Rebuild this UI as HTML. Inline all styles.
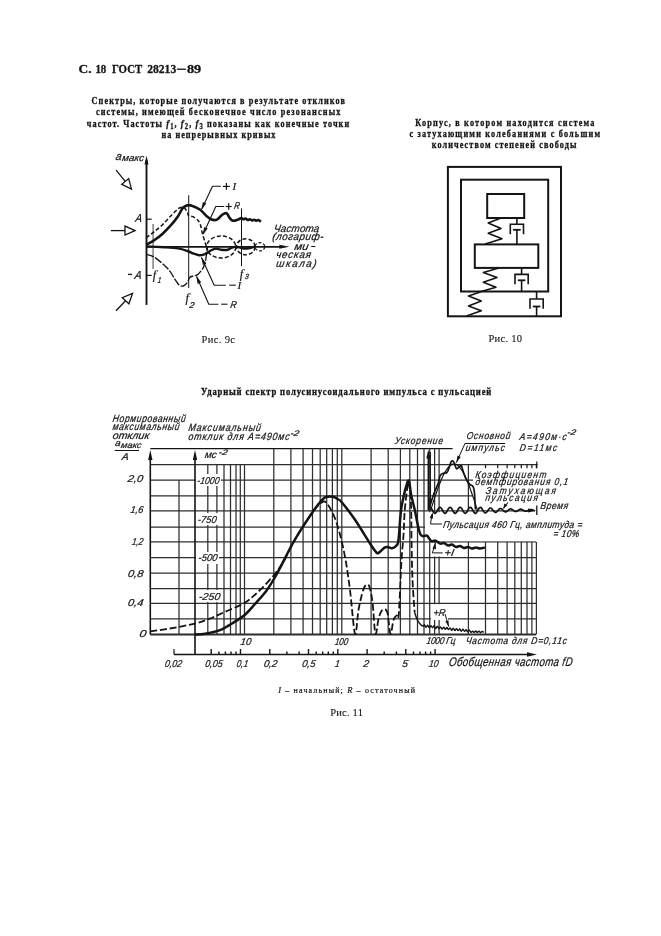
<!DOCTYPE html>
<html><head><meta charset="utf-8"><title>ГОСТ 28213-89 с. 18</title>
<style>html,body{margin:0;padding:0;background:#fff;} svg{display:block;will-change:transform;}</style></head>
<body><svg width="661" height="936" viewBox="0 0 661 936">
<rect width="661" height="936" fill="#fff"/>
<text x="78.6" y="73.2" font-family='"Liberation Serif", serif' font-size="12.4" font-weight="bold" font-style="normal" fill="#141414" stroke="#141414" stroke-width="0.3" textLength="13.0" lengthAdjust="spacingAndGlyphs" >С.</text>
<text x="95.4" y="73.2" font-family='"Liberation Serif", serif' font-size="12.4" font-weight="bold" font-style="normal" fill="#141414" stroke="#141414" stroke-width="0.3" textLength="10.9" lengthAdjust="spacingAndGlyphs" >18</text>
<text x="112.0" y="73.2" font-family='"Liberation Serif", serif' font-size="12.4" font-weight="bold" font-style="normal" fill="#141414" stroke="#141414" stroke-width="0.3" textLength="30.2" lengthAdjust="spacingAndGlyphs" >ГОСТ</text>
<text x="147.2" y="73.2" font-family='"Liberation Serif", serif' font-size="12.4" font-weight="bold" font-style="normal" fill="#141414" stroke="#141414" stroke-width="0.3" textLength="29.0" lengthAdjust="spacingAndGlyphs" >28213</text>
<line x1="176.8" y1="69.2" x2="185.9" y2="69.2" stroke="#141414" stroke-width="1.3" />
<text x="186.9" y="73.2" font-family='"Liberation Serif", serif' font-size="12.5" font-weight="bold" font-style="normal" fill="#141414" stroke="#141414" stroke-width="0.3" textLength="14.3" lengthAdjust="spacingAndGlyphs" >89</text>
<g transform="translate(91.6,104.1) skewX(0) scale(0.83,1)"><text x="0" y="0" font-family='"Liberation Serif", serif' font-size="9.9" font-weight="bold" font-style="normal" fill="#141414" stroke="#141414" stroke-width="0.3" textLength="305.3" lengthAdjust="spacing" >Спектры, которые получаются в результате откликов</text></g>
<g transform="translate(95.9,114.9) skewX(0) scale(0.83,1)"><text x="0" y="0" font-family='"Liberation Serif", serif' font-size="9.9" font-weight="bold" font-style="normal" fill="#141414" stroke="#141414" stroke-width="0.3" textLength="294.5" lengthAdjust="spacing" >системы, имеющей бесконечное число резонансных</text></g>
<g transform="translate(86.8,127) scale(0.83,1)"><text x="0" y="0" font-family='"Liberation Serif", serif' font-size="9.9" font-weight="bold" fill="#141414" stroke="#141414" stroke-width="0.3" textLength="316.1" lengthAdjust="spacing">частот. Частоты <tspan font-style="italic" font-size="10.5">f</tspan><tspan font-size="8" dy="1.5">1</tspan><tspan dy="-1.5">, </tspan><tspan font-style="italic" font-size="10.5">f</tspan><tspan font-size="8" dy="1.5">2</tspan><tspan dy="-1.5">, </tspan><tspan font-style="italic" font-size="10.5">f</tspan><tspan font-size="8" dy="1.5">3</tspan><tspan dy="-1.5"> показаны как конечные точки</tspan></text></g>
<g transform="translate(161.6,138.2) skewX(0) scale(0.83,1)"><text x="0" y="0" font-family='"Liberation Serif", serif' font-size="9.9" font-weight="bold" font-style="normal" fill="#141414" stroke="#141414" stroke-width="0.3" textLength="137.2" lengthAdjust="spacing" >на непрерывных кривых</text></g>
<g transform="translate(415.2,125.9) skewX(0) scale(0.83,1)"><text x="0" y="0" font-family='"Liberation Serif", serif' font-size="9.9" font-weight="bold" font-style="normal" fill="#141414" stroke="#141414" stroke-width="0.3" textLength="215.9" lengthAdjust="spacing" >Корпус, в котором находится система</text></g>
<g transform="translate(409.5,137.0) skewX(0) scale(0.83,1)"><text x="0" y="0" font-family='"Liberation Serif", serif' font-size="9.9" font-weight="bold" font-style="normal" fill="#141414" stroke="#141414" stroke-width="0.3" textLength="229.5" lengthAdjust="spacing" >с затухающими колебаниями с большим</text></g>
<g transform="translate(431.8,147.5) skewX(0) scale(0.83,1)"><text x="0" y="0" font-family='"Liberation Serif", serif' font-size="9.9" font-weight="bold" font-style="normal" fill="#141414" stroke="#141414" stroke-width="0.3" textLength="174.1" lengthAdjust="spacing" >количеством степеней свободы</text></g>
<text x="201.5" y="343.2" font-family='"Liberation Serif", serif' font-size="10.5" font-weight="normal" font-style="normal" fill="#141414" stroke="#141414" stroke-width="0.1" textLength="33.5" lengthAdjust="spacing" >Рис. 9с</text>
<text x="488.4" y="341.7" font-family='"Liberation Serif", serif' font-size="10.5" font-weight="normal" font-style="normal" fill="#141414" stroke="#141414" stroke-width="0.1" textLength="33.6" lengthAdjust="spacing" >Рис. 10</text>
<rect x="447.9" y="166.9" width="113.1" height="149.4" fill="none" stroke="#141414" stroke-width="2.0"/>
<rect x="461" y="179.7" width="87.2" height="111.8" fill="none" stroke="#141414" stroke-width="2.0"/>
<rect x="487.2" y="194" width="37" height="24" fill="none" stroke="#141414" stroke-width="2.0"/>
<rect x="474.8" y="244.4" width="63.5" height="23.5" fill="none" stroke="#141414" stroke-width="2.0"/>
<path d="M501.0,218.0 L488.2,223.0 L501.0,228.4 L488.2,233.2 L502.0,238.7 L485.2,244.0" fill="none" stroke="#141414" stroke-width="1.6" stroke-linejoin="round" stroke-linecap="butt" />
<path d="M499.0,268.0 L483.3,272.4 L497.0,277.4 L483.3,282.3 L496.0,287.2 L479.3,292.1" fill="none" stroke="#141414" stroke-width="1.6" stroke-linejoin="round" stroke-linecap="butt" />
<path d="M480.3,292.1 L468.5,296.0 L481.3,301.0 L468.5,305.9 L481.3,310.8 L466.5,316.0" fill="none" stroke="#141414" stroke-width="1.6" stroke-linejoin="round" stroke-linecap="butt" />
<line x1="516.9" y1="218.0" x2="516.9" y2="224.2" stroke="#141414" stroke-width="1.6" />
<path d="M510.3,234.3 L510.3,224.2 L523.5,224.2 L523.5,234.3" fill="none" stroke="#141414" stroke-width="1.6"/>
<line x1="513.1" y1="229.8" x2="520.7" y2="229.8" stroke="#141414" stroke-width="1.8" />
<line x1="516.9" y1="229.8" x2="516.9" y2="244.4" stroke="#141414" stroke-width="1.6" />
<line x1="521.6" y1="268.0" x2="521.6" y2="274.4" stroke="#141414" stroke-width="1.6" />
<path d="M515.0,284.2 L515.0,274.4 L528.2,274.4 L528.2,284.2" fill="none" stroke="#141414" stroke-width="1.6"/>
<line x1="517.8" y1="280.3" x2="525.4" y2="280.3" stroke="#141414" stroke-width="1.8" />
<line x1="521.6" y1="280.3" x2="521.6" y2="291.5" stroke="#141414" stroke-width="1.6" />
<line x1="536.6" y1="291.5" x2="536.6" y2="299.0" stroke="#141414" stroke-width="1.6" />
<path d="M530.0,308.8 L530.0,299.0 L543.2,299.0 L543.2,308.8" fill="none" stroke="#141414" stroke-width="1.6"/>
<line x1="532.8" y1="306.5" x2="540.4" y2="306.5" stroke="#141414" stroke-width="1.8" />
<line x1="536.6" y1="306.5" x2="536.6" y2="316.3" stroke="#141414" stroke-width="1.6" />
<line x1="146.5" y1="304.9" x2="146.5" y2="160.0" stroke="#141414" stroke-width="1.9" />
<path d="M146.5,155.5 L148.5,164.5 L144.5,164.5 Z" fill="#141414"/>
<line x1="146.5" y1="246.8" x2="284.0" y2="246.8" stroke="#141414" stroke-width="1.8" />
<path d="M289.4,246.8 L279.4,248.8 L279.4,244.8 Z" fill="#141414"/>
<line x1="146.5" y1="219.2" x2="151.7" y2="219.2" stroke="#141414" stroke-width="1.2" />
<line x1="146.5" y1="275.4" x2="151.7" y2="275.4" stroke="#141414" stroke-width="1.2" />
<line x1="153.1" y1="224.0" x2="153.1" y2="269.0" stroke="#8a8a8a" stroke-width="1.6" />
<line x1="188.7" y1="195.2" x2="188.7" y2="288.0" stroke="#141414" stroke-width="1.0" />
<line x1="241.5" y1="208.4" x2="241.5" y2="266.2" stroke="#141414" stroke-width="1.0" />
<line x1="116.1" y1="170.2" x2="125.2" y2="181.4" stroke="#141414" stroke-width="1.3" />
<path d="M131.5,189.2 L121.7,184.3 L128.7,178.6 Z" fill="none" stroke="#141414" stroke-width="1.3" stroke-linejoin="miter"/>
<line x1="110.8" y1="230.6" x2="125.0" y2="230.6" stroke="#141414" stroke-width="1.3" />
<path d="M135.0,230.6 L125.0,235.1 L125.0,226.1 Z" fill="none" stroke="#141414" stroke-width="1.3" stroke-linejoin="miter"/>
<line x1="116.0" y1="310.8" x2="125.6" y2="300.7" stroke="#141414" stroke-width="1.3" />
<path d="M132.5,293.5 L128.9,303.8 L122.3,297.6 Z" fill="none" stroke="#141414" stroke-width="1.3" stroke-linejoin="miter"/>
<path d="M146.2,244.8 C147.4,244.1 150.9,242.4 153.6,240.6 C156.2,238.8 159.3,236.7 162.1,234.2 C164.9,231.7 167.8,228.7 170.5,225.7 C173.2,222.7 176.1,219.0 178.0,216.2 C179.9,213.4 181.0,210.5 182.2,208.8 C183.4,207.1 184.3,206.7 185.4,206.1 C186.5,205.5 187.4,205.1 188.6,205.1 C189.8,205.1 190.9,205.3 192.8,206.1 C194.7,206.9 197.9,208.2 200.2,209.8 C202.5,211.4 204.5,214.3 206.4,215.9 C208.3,217.5 209.9,219.0 211.7,219.6 C213.5,220.2 215.2,220.4 217.0,219.6 C218.8,218.8 220.6,215.9 222.2,214.8 C223.8,213.7 225.2,212.7 226.5,213.2 C227.8,213.7 228.6,216.8 229.7,218.0 C230.8,219.2 231.4,220.4 232.8,220.7 C234.2,221.0 236.7,220.0 238.1,219.6 C239.5,219.2 240.4,218.1 241.3,218.0 C242.2,217.9 242.8,219.2 243.5,219.3 C244.2,219.4 244.9,218.5 245.6,218.6 C246.3,218.7 247.0,219.8 247.7,219.9 C248.4,220.0 249.1,219.1 249.8,219.2 C250.5,219.3 251.3,220.3 252.0,220.4 C252.7,220.5 253.3,219.7 254.0,219.7 C254.7,219.7 255.5,220.5 256.2,220.6 C256.9,220.7 257.5,219.8 258.3,220.0 C259.1,220.2 260.5,221.4 260.9,221.7" fill="none" stroke="#141414" stroke-width="2.6" stroke-linejoin="round" stroke-linecap="butt" />
<path d="M146.2,237.9 C147.4,236.9 150.9,234.2 153.6,232.1 C156.2,230.0 159.3,227.8 162.1,225.2 C164.9,222.5 167.8,218.9 170.5,216.2 C173.2,213.5 176.1,210.3 178.0,208.8 C179.9,207.3 181.1,207.3 182.2,207.2 C183.3,207.1 183.9,207.3 184.8,208.2 C185.7,209.1 186.9,211.2 187.5,212.5 C188.1,213.8 187.7,215.0 188.6,215.7 C189.5,216.4 191.2,215.9 192.8,216.7 C194.4,217.5 196.8,218.9 198.1,220.4 C199.4,221.9 200.0,223.6 200.7,225.7 C201.4,227.8 201.5,230.1 202.3,233.1 C203.1,236.1 204.6,240.9 205.5,243.7 C206.4,246.5 207.2,248.9 207.6,250.0" fill="none" stroke="#141414" stroke-width="1.5" stroke-linejoin="round" stroke-linecap="butt" stroke-dasharray="4,2.2" />
<path d="M146.2,246.4 C149.2,246.6 158.9,247.0 164.2,247.3 C169.5,247.6 174.1,247.8 178.0,248.4 C181.9,249.0 184.9,250.1 187.5,251.0 C190.1,251.9 191.9,253.0 193.8,253.7 C195.7,254.4 197.5,255.0 199.1,255.2 C200.7,255.4 202.0,255.1 203.4,254.7 C204.8,254.3 206.4,253.3 207.6,252.6 C208.8,251.9 209.4,251.2 210.8,250.5 C212.2,249.8 214.2,248.7 215.9,248.6 C217.6,248.5 219.3,249.6 221.2,249.8 C223.1,250.0 225.7,250.2 227.5,249.8 C229.3,249.5 230.4,248.2 231.8,247.7 C233.2,247.2 234.2,246.5 236.0,246.6 C237.8,246.7 240.3,247.9 242.4,248.2 C244.5,248.5 246.6,248.5 248.7,248.2 C250.8,247.9 253.9,246.9 255.0,246.6" fill="none" stroke="#141414" stroke-width="2.4" stroke-linejoin="round" stroke-linecap="butt" />
<path d="M146.2,254.2 C147.4,254.6 150.9,255.3 153.6,256.8 C156.2,258.3 159.4,260.9 162.1,263.2 C164.8,265.5 167.4,268.0 169.5,270.6 C171.6,273.2 173.2,276.7 174.8,279.1 C176.4,281.5 177.6,283.8 179.0,284.9 C180.4,286.0 181.9,286.4 183.3,286.0 C184.7,285.6 186.4,283.7 187.5,282.3 C188.6,280.9 188.5,278.6 189.6,277.5 C190.7,276.4 192.4,276.4 193.8,275.9 C195.2,275.4 196.5,275.7 198.1,274.3 C199.7,272.9 202.2,269.6 203.4,267.4 C204.6,265.2 205.0,263.4 205.5,261.1 C206.0,258.8 206.2,256.0 206.6,253.7 C206.9,251.4 207.4,248.4 207.6,247.3" fill="none" stroke="#141414" stroke-width="1.35" stroke-linejoin="round" stroke-linecap="butt" stroke-dasharray="8,1.6" />
<ellipse cx="221.2" cy="247" rx="14.6" ry="11" fill="none" stroke="#141414" stroke-width="1.5" stroke-dasharray="4,2.2"/>
<ellipse cx="245.8" cy="246.8" rx="9.3" ry="8" fill="none" stroke="#141414" stroke-width="1.5" stroke-dasharray="4,2.2"/>
<ellipse cx="259.9" cy="246.8" rx="4.8" ry="4.2" fill="none" stroke="#141414" stroke-width="1.2" stroke-dasharray="3,1.8"/>
<path d="M220.8,186.2 L212.5,186.2 L201.8,209.0" fill="none" stroke="#141414" stroke-width="1.1" stroke-linejoin="round" stroke-linecap="butt" />
<path d="M201.2,210.0 L202.9,202.0 L206.3,203.6 Z" fill="#141414"/>
<path d="M224.2,206.5 L215.8,206.5 L203.2,234.0" fill="none" stroke="#141414" stroke-width="1.1" stroke-linejoin="round" stroke-linecap="butt" />
<path d="M202.6,235.0 L204.2,226.9 L207.7,228.5 Z" fill="#141414"/>
<line x1="222.9" y1="186.4" x2="229.9" y2="186.4" stroke="#141414" stroke-width="1.2" />
<line x1="226.4" y1="183.0" x2="226.4" y2="189.8" stroke="#141414" stroke-width="1.2" />
<line x1="225.7" y1="206.5" x2="231.7" y2="206.5" stroke="#141414" stroke-width="1.2" />
<line x1="228.7" y1="203.3" x2="228.7" y2="209.7" stroke="#141414" stroke-width="1.2" />
<text x="232.4" y="189.8" font-family='"Liberation Serif", serif' font-size="11" font-weight="normal" font-style="italic" fill="#141414" stroke="#141414" stroke-width="0.2" >I</text>
<g transform="translate(233.8,208.9) skewX(-9) scale(1.0,1)"><text x="0" y="0" font-family='"Liberation Sans", sans-serif' font-size="10" font-weight="normal" font-style="italic" fill="#141414" stroke="#141414" stroke-width="0.22" textLength="5.6" lengthAdjust="spacingAndGlyphs" >R</text></g>
<path d="M225.8,285.2 L214.2,285.2 L201.5,257.5" fill="none" stroke="#141414" stroke-width="1.1" stroke-linejoin="round" stroke-linecap="butt" />
<line x1="229.2" y1="285.2" x2="235.8" y2="285.2" stroke="#141414" stroke-width="1.1" />
<path d="M201.3,257.0 L206.3,263.5 L202.9,265.1 Z" fill="#141414"/>
<path d="M218.3,304.2 L208.8,304.2 L196.6,276.5" fill="none" stroke="#141414" stroke-width="1.1" stroke-linejoin="round" stroke-linecap="butt" />
<line x1="221.2" y1="304.2" x2="227.5" y2="304.2" stroke="#141414" stroke-width="1.1" />
<path d="M196.2,275.8 L201.2,282.3 L197.7,283.9 Z" fill="#141414"/>
<g transform="translate(115.2,159.8) skewX(-9) scale(1.0,1)"><text x="0" y="0" font-family='"Liberation Sans", sans-serif' font-size="11.3" font-weight="normal" font-style="italic" fill="#141414" stroke="#141414" stroke-width="0.22" textLength="6.0" lengthAdjust="spacingAndGlyphs" >a</text></g>
<g transform="translate(121.8,161.3) skewX(-9) scale(1.0,1)"><text x="0" y="0" font-family='"Liberation Sans", sans-serif' font-size="9.4" font-weight="normal" font-style="italic" fill="#141414" stroke="#141414" stroke-width="0.22" textLength="21.8" lengthAdjust="spacingAndGlyphs" >макс</text></g>
<g transform="translate(135.0,222.1) skewX(-9) scale(1.0,1)"><text x="0" y="0" font-family='"Liberation Sans", sans-serif' font-size="11.5" font-weight="normal" font-style="italic" fill="#141414" stroke="#141414" stroke-width="0.22" textLength="6.6" lengthAdjust="spacingAndGlyphs" >A</text></g>
<line x1="128.0" y1="274.4" x2="132.0" y2="274.4" stroke="#141414" stroke-width="1.3" />
<g transform="translate(134.2,278.9) skewX(-9) scale(1.0,1)"><text x="0" y="0" font-family='"Liberation Sans", sans-serif' font-size="11.5" font-weight="normal" font-style="italic" fill="#141414" stroke="#141414" stroke-width="0.22" textLength="7.0" lengthAdjust="spacingAndGlyphs" >A</text></g>
<text x="152.8" y="279.2" font-family='"Liberation Serif", serif' font-size="12.5" font-weight="normal" font-style="italic" fill="#141414" stroke="#141414" stroke-width="0.2" >f</text>
<g transform="translate(157.2,282.6) skewX(-9) scale(1.0,1)"><text x="0" y="0" font-family='"Liberation Sans", sans-serif' font-size="8.5" font-weight="normal" font-style="italic" fill="#141414" stroke="#141414" stroke-width="0.22" textLength="3.6" lengthAdjust="spacingAndGlyphs" >1</text></g>
<text x="185.6" y="301.8" font-family='"Liberation Serif", serif' font-size="12.5" font-weight="normal" font-style="italic" fill="#141414" stroke="#141414" stroke-width="0.2" >f</text>
<g transform="translate(189.1,307.7) skewX(-9) scale(1.0,1)"><text x="0" y="0" font-family='"Liberation Sans", sans-serif' font-size="8.5" font-weight="normal" font-style="italic" fill="#141414" stroke="#141414" stroke-width="0.22" textLength="5.1" lengthAdjust="spacingAndGlyphs" >2</text></g>
<text x="239.8" y="277.8" font-family='"Liberation Serif", serif' font-size="12.5" font-weight="normal" font-style="italic" fill="#141414" stroke="#141414" stroke-width="0.2" >f</text>
<g transform="translate(244.4,279.3) skewX(-9) scale(1.0,1)"><text x="0" y="0" font-family='"Liberation Sans", sans-serif' font-size="7.5" font-weight="normal" font-style="italic" fill="#141414" stroke="#141414" stroke-width="0.22" textLength="4.0" lengthAdjust="spacingAndGlyphs" >3</text></g>
<text x="237.6" y="288.7" font-family='"Liberation Serif", serif' font-size="11" font-weight="normal" font-style="italic" fill="#141414" stroke="#141414" stroke-width="0.2" >I</text>
<g transform="translate(230.0,307.5) skewX(-9) scale(1.0,1)"><text x="0" y="0" font-family='"Liberation Sans", sans-serif' font-size="10" font-weight="normal" font-style="italic" fill="#141414" stroke="#141414" stroke-width="0.22" textLength="6.2" lengthAdjust="spacingAndGlyphs" >R</text></g>
<g transform="translate(273.5,232.0) skewX(-9) scale(0.95,1)"><text x="0" y="0" font-family='"Liberation Sans", sans-serif' font-size="10.5" font-weight="normal" font-style="italic" fill="#141414" stroke="#141414" stroke-width="0.22" textLength="47.8" lengthAdjust="spacing" >Частота</text></g>
<g transform="translate(272.0,240.2) skewX(-9) scale(0.95,1)"><text x="0" y="0" font-family='"Liberation Sans", sans-serif' font-size="10.5" font-weight="normal" font-style="italic" fill="#141414" stroke="#141414" stroke-width="0.22" textLength="53.7" lengthAdjust="spacing" >(логариф-</text></g>
<g transform="translate(293.9,249.7) skewX(-9) scale(1.0,1)"><text x="0" y="0" font-family='"Liberation Sans", sans-serif' font-size="10.5" font-weight="normal" font-style="italic" fill="#141414" stroke="#141414" stroke-width="0.22" textLength="14.1" lengthAdjust="spacingAndGlyphs" >ми</text></g>
<line x1="311.2" y1="246.5" x2="315.3" y2="246.5" stroke="#141414" stroke-width="1.1" />
<g transform="translate(275.7,258.4) skewX(-9) scale(0.95,1)"><text x="0" y="0" font-family='"Liberation Sans", sans-serif' font-size="10.5" font-weight="normal" font-style="italic" fill="#141414" stroke="#141414" stroke-width="0.22" textLength="36.8" lengthAdjust="spacing" >ческая</text></g>
<g transform="translate(275.7,267.0) skewX(-9) scale(0.95,1)"><text x="0" y="0" font-family='"Liberation Sans", sans-serif' font-size="10.5" font-weight="normal" font-style="italic" fill="#141414" stroke="#141414" stroke-width="0.22" textLength="42.6" lengthAdjust="spacing" >шкала)</text></g>
<g transform="translate(200.9,395.3) skewX(0) scale(0.9,1)"><text x="0" y="0" font-family='"Liberation Serif", serif' font-size="9.6" font-weight="bold" font-style="normal" fill="#141414" stroke="#141414" stroke-width="0.3" textLength="322.7" lengthAdjust="spacing" >Ударный спектр полусинусоидального импульса с пульсацией</text></g>
<line x1="150.3" y1="448.7" x2="452.6" y2="448.7" stroke="#141414" stroke-width="1.25" />
<line x1="150.3" y1="464.6" x2="537.5" y2="464.6" stroke="#2e2e2e" stroke-width="1.25" />
<line x1="150.3" y1="480.1" x2="475.0" y2="480.1" stroke="#2e2e2e" stroke-width="1.25" />
<line x1="150.3" y1="495.8" x2="477.0" y2="495.8" stroke="#2e2e2e" stroke-width="1.25" />
<line x1="150.3" y1="510.9" x2="533.0" y2="510.9" stroke="#2e2e2e" stroke-width="1.25" />
<line x1="150.3" y1="527.0" x2="425.0" y2="527.0" stroke="#2e2e2e" stroke-width="1.25" />
<line x1="150.3" y1="541.9" x2="536.0" y2="541.9" stroke="#2e2e2e" stroke-width="1.25" />
<line x1="150.3" y1="557.6" x2="536.0" y2="557.6" stroke="#2e2e2e" stroke-width="1.25" />
<line x1="150.3" y1="573.0" x2="536.0" y2="573.0" stroke="#2e2e2e" stroke-width="1.25" />
<line x1="150.3" y1="588.5" x2="536.0" y2="588.5" stroke="#2e2e2e" stroke-width="1.25" />
<line x1="150.3" y1="603.3" x2="536.0" y2="603.3" stroke="#2e2e2e" stroke-width="1.25" />
<line x1="150.3" y1="618.8" x2="536.0" y2="618.8" stroke="#2e2e2e" stroke-width="1.25" />
<line x1="150.3" y1="634.5" x2="536.0" y2="634.5" stroke="#2e2e2e" stroke-width="2.0" />
<line x1="485.5" y1="464.6" x2="485.5" y2="468.6" stroke="#141414" stroke-width="1.2" />
<line x1="497.7" y1="464.6" x2="497.7" y2="468.6" stroke="#141414" stroke-width="1.2" />
<line x1="507.1" y1="464.6" x2="507.1" y2="468.6" stroke="#141414" stroke-width="1.2" />
<line x1="514.8" y1="464.6" x2="514.8" y2="468.6" stroke="#141414" stroke-width="1.2" />
<line x1="521.3" y1="464.6" x2="521.3" y2="468.6" stroke="#141414" stroke-width="1.2" />
<line x1="527.0" y1="464.6" x2="527.0" y2="468.6" stroke="#141414" stroke-width="1.2" />
<line x1="531.9" y1="464.6" x2="531.9" y2="468.6" stroke="#141414" stroke-width="1.2" />
<line x1="536.4" y1="464.6" x2="536.4" y2="468.6" stroke="#141414" stroke-width="1.2" />
<line x1="207.8" y1="464.6" x2="207.8" y2="634.5" stroke="#2e2e2e" stroke-width="1.25" />
<line x1="216.9" y1="464.6" x2="216.9" y2="634.5" stroke="#2e2e2e" stroke-width="1.25" />
<line x1="224.0" y1="464.6" x2="224.0" y2="634.5" stroke="#2e2e2e" stroke-width="1.25" />
<line x1="230.5" y1="464.6" x2="230.5" y2="634.5" stroke="#2e2e2e" stroke-width="1.25" />
<line x1="236.0" y1="464.6" x2="236.0" y2="634.5" stroke="#2e2e2e" stroke-width="1.25" />
<line x1="240.3" y1="464.6" x2="240.3" y2="634.5" stroke="#2e2e2e" stroke-width="1.25" />
<line x1="179.0" y1="480.1" x2="179.0" y2="634.5" stroke="#2e2e2e" stroke-width="1.25" />
<line x1="244.5" y1="464.6" x2="244.5" y2="634.5" stroke="#2e2e2e" stroke-width="1.25" />
<line x1="273.8" y1="448.7" x2="273.8" y2="634.5" stroke="#2e2e2e" stroke-width="1.25" />
<line x1="290.9" y1="448.7" x2="290.9" y2="634.5" stroke="#2e2e2e" stroke-width="1.25" />
<line x1="303.1" y1="448.7" x2="303.1" y2="634.5" stroke="#2e2e2e" stroke-width="1.25" />
<line x1="312.5" y1="448.7" x2="312.5" y2="634.5" stroke="#2e2e2e" stroke-width="1.25" />
<line x1="320.2" y1="448.7" x2="320.2" y2="634.5" stroke="#2e2e2e" stroke-width="1.25" />
<line x1="326.7" y1="448.7" x2="326.7" y2="634.5" stroke="#2e2e2e" stroke-width="1.25" />
<line x1="332.4" y1="448.7" x2="332.4" y2="634.5" stroke="#2e2e2e" stroke-width="1.25" />
<line x1="337.3" y1="448.7" x2="337.3" y2="634.5" stroke="#2e2e2e" stroke-width="1.25" />
<line x1="341.8" y1="448.7" x2="341.8" y2="634.5" stroke="#2e2e2e" stroke-width="1.25" />
<line x1="371.1" y1="448.7" x2="371.1" y2="634.5" stroke="#2e2e2e" stroke-width="1.25" />
<line x1="388.2" y1="448.7" x2="388.2" y2="634.5" stroke="#2e2e2e" stroke-width="1.25" />
<line x1="400.4" y1="448.7" x2="400.4" y2="634.5" stroke="#2e2e2e" stroke-width="1.25" />
<line x1="409.8" y1="448.7" x2="409.8" y2="634.5" stroke="#2e2e2e" stroke-width="1.25" />
<line x1="417.5" y1="448.7" x2="417.5" y2="634.5" stroke="#2e2e2e" stroke-width="1.25" />
<line x1="424.0" y1="448.7" x2="424.0" y2="634.5" stroke="#2e2e2e" stroke-width="1.25" />
<line x1="429.7" y1="448.7" x2="429.7" y2="634.5" stroke="#2e2e2e" stroke-width="1.25" />
<line x1="434.6" y1="448.7" x2="434.6" y2="634.5" stroke="#2e2e2e" stroke-width="1.25" />
<line x1="439.1" y1="448.7" x2="439.1" y2="634.5" stroke="#2e2e2e" stroke-width="1.25" />
<line x1="468.4" y1="464.6" x2="468.4" y2="510.9" stroke="#2e2e2e" stroke-width="1.25" />
<line x1="468.4" y1="534.5" x2="468.4" y2="634.5" stroke="#2e2e2e" stroke-width="1.25" />
<line x1="485.5" y1="541.9" x2="485.5" y2="634.5" stroke="#2e2e2e" stroke-width="1.25" />
<line x1="497.7" y1="541.9" x2="497.7" y2="634.5" stroke="#2e2e2e" stroke-width="1.25" />
<line x1="507.1" y1="541.9" x2="507.1" y2="634.5" stroke="#2e2e2e" stroke-width="1.25" />
<line x1="514.8" y1="541.9" x2="514.8" y2="634.5" stroke="#2e2e2e" stroke-width="1.25" />
<line x1="521.3" y1="541.9" x2="521.3" y2="634.5" stroke="#2e2e2e" stroke-width="1.25" />
<line x1="527.0" y1="541.9" x2="527.0" y2="634.5" stroke="#2e2e2e" stroke-width="1.25" />
<line x1="531.9" y1="541.9" x2="531.9" y2="634.5" stroke="#2e2e2e" stroke-width="1.25" />
<line x1="536.4" y1="541.9" x2="536.4" y2="634.5" stroke="#2e2e2e" stroke-width="1.25" />
<line x1="536.8" y1="461.6" x2="536.8" y2="468.6" stroke="#141414" stroke-width="1.2" />
<line x1="150.3" y1="634.5" x2="150.3" y2="458.0" stroke="#141414" stroke-width="1.6" />
<path d="M150.3,450.0 L152.5,460.0 L148.1,460.0 Z" fill="#141414"/>
<line x1="195.0" y1="654.5" x2="195.0" y2="458.0" stroke="#141414" stroke-width="1.6" />
<path d="M195.0,450.0 L197.2,460.0 L192.8,460.0 Z" fill="#141414"/>
<rect x="196.0" y="474.0" width="25.0" height="12.0" fill="#fff"/>
<rect x="196.0" y="513.0" width="22.0" height="12.0" fill="#fff"/>
<rect x="196.0" y="552.0" width="23.0" height="12.0" fill="#fff"/>
<rect x="196.0" y="590.0" width="25.0" height="12.0" fill="#fff"/>
<rect x="473.0" y="468.5" width="102.0" height="40.5" fill="#fff"/>
<rect x="425.6" y="512.2" width="162.0" height="29.0" fill="#fff"/>
<rect x="432.0" y="543.0" width="25.0" height="13.5" fill="#fff"/>
<rect x="431.0" y="604.2" width="17.0" height="15.8" fill="#fff"/>
<line x1="174.0" y1="654.5" x2="530.0" y2="654.5" stroke="#141414" stroke-width="1.5" />
<path d="M537.0,654.5 L527.0,656.7 L527.0,652.3 Z" fill="#141414"/>
<line x1="211.2" y1="649.0" x2="211.2" y2="654.5" stroke="#141414" stroke-width="1.4" />
<line x1="240.5" y1="649.0" x2="240.5" y2="654.5" stroke="#141414" stroke-width="1.4" />
<line x1="269.8" y1="649.0" x2="269.8" y2="654.5" stroke="#141414" stroke-width="1.4" />
<line x1="308.5" y1="649.0" x2="308.5" y2="654.5" stroke="#141414" stroke-width="1.4" />
<line x1="337.8" y1="649.0" x2="337.8" y2="654.5" stroke="#141414" stroke-width="1.4" />
<line x1="367.1" y1="649.0" x2="367.1" y2="654.5" stroke="#141414" stroke-width="1.4" />
<line x1="405.8" y1="649.0" x2="405.8" y2="654.5" stroke="#141414" stroke-width="1.4" />
<line x1="435.1" y1="649.0" x2="435.1" y2="654.5" stroke="#141414" stroke-width="1.4" />
<line x1="218.9" y1="651.5" x2="218.9" y2="654.5" stroke="#141414" stroke-width="1.4" />
<line x1="225.4" y1="651.5" x2="225.4" y2="654.5" stroke="#141414" stroke-width="1.4" />
<line x1="231.0" y1="651.5" x2="231.0" y2="654.5" stroke="#141414" stroke-width="1.4" />
<line x1="236.0" y1="651.5" x2="236.0" y2="654.5" stroke="#141414" stroke-width="1.4" />
<line x1="286.9" y1="651.5" x2="286.9" y2="654.5" stroke="#141414" stroke-width="1.4" />
<line x1="299.1" y1="651.5" x2="299.1" y2="654.5" stroke="#141414" stroke-width="1.4" />
<line x1="316.2" y1="651.5" x2="316.2" y2="654.5" stroke="#141414" stroke-width="1.4" />
<line x1="322.7" y1="651.5" x2="322.7" y2="654.5" stroke="#141414" stroke-width="1.4" />
<line x1="328.3" y1="651.5" x2="328.3" y2="654.5" stroke="#141414" stroke-width="1.4" />
<line x1="333.3" y1="651.5" x2="333.3" y2="654.5" stroke="#141414" stroke-width="1.4" />
<line x1="384.2" y1="651.5" x2="384.2" y2="654.5" stroke="#141414" stroke-width="1.4" />
<line x1="396.4" y1="651.5" x2="396.4" y2="654.5" stroke="#141414" stroke-width="1.4" />
<line x1="413.5" y1="651.5" x2="413.5" y2="654.5" stroke="#141414" stroke-width="1.4" />
<line x1="420.0" y1="651.5" x2="420.0" y2="654.5" stroke="#141414" stroke-width="1.4" />
<line x1="425.6" y1="651.5" x2="425.6" y2="654.5" stroke="#141414" stroke-width="1.4" />
<line x1="430.6" y1="651.5" x2="430.6" y2="654.5" stroke="#141414" stroke-width="1.4" />
<line x1="174.0" y1="649.0" x2="174.0" y2="654.5" stroke="#141414" stroke-width="1.2" />
<g transform="translate(127.2,482.0) skewX(-9) scale(1.0,1)"><text x="0" y="0" font-family='"Liberation Sans", sans-serif' font-size="10" font-weight="normal" font-style="italic" fill="#141414" stroke="#141414" stroke-width="0.22" textLength="15.5" lengthAdjust="spacingAndGlyphs" >2,0</text></g>
<g transform="translate(130.0,513.2) skewX(-9) scale(1.0,1)"><text x="0" y="0" font-family='"Liberation Sans", sans-serif' font-size="10" font-weight="normal" font-style="italic" fill="#141414" stroke="#141414" stroke-width="0.22" textLength="13.0" lengthAdjust="spacingAndGlyphs" >1,6</text></g>
<g transform="translate(131.4,544.5) skewX(-9) scale(1.0,1)"><text x="0" y="0" font-family='"Liberation Sans", sans-serif' font-size="10" font-weight="normal" font-style="italic" fill="#141414" stroke="#141414" stroke-width="0.22" textLength="11.6" lengthAdjust="spacingAndGlyphs" >1,2</text></g>
<g transform="translate(127.5,576.8) skewX(-9) scale(1.0,1)"><text x="0" y="0" font-family='"Liberation Sans", sans-serif' font-size="10" font-weight="normal" font-style="italic" fill="#141414" stroke="#141414" stroke-width="0.22" textLength="15.5" lengthAdjust="spacingAndGlyphs" >0,8</text></g>
<g transform="translate(127.5,606.3) skewX(-9) scale(1.0,1)"><text x="0" y="0" font-family='"Liberation Sans", sans-serif' font-size="10" font-weight="normal" font-style="italic" fill="#141414" stroke="#141414" stroke-width="0.22" textLength="15.5" lengthAdjust="spacingAndGlyphs" >0,4</text></g>
<g transform="translate(139.0,637.2) skewX(-9) scale(1.0,1)"><text x="0" y="0" font-family='"Liberation Sans", sans-serif' font-size="10" font-weight="normal" font-style="italic" fill="#141414" stroke="#141414" stroke-width="0.22" textLength="7.0" lengthAdjust="spacingAndGlyphs" >0</text></g>
<g transform="translate(196.8,483.6) skewX(-9) scale(1.0,1)"><text x="0" y="0" font-family='"Liberation Sans", sans-serif' font-size="10" font-weight="normal" font-style="italic" fill="#141414" stroke="#141414" stroke-width="0.22" textLength="22.2" lengthAdjust="spacingAndGlyphs" >-1000</text></g>
<g transform="translate(197.5,522.6) skewX(-9) scale(1.0,1)"><text x="0" y="0" font-family='"Liberation Sans", sans-serif' font-size="10" font-weight="normal" font-style="italic" fill="#141414" stroke="#141414" stroke-width="0.22" textLength="18.7" lengthAdjust="spacingAndGlyphs" >-750</text></g>
<g transform="translate(198.0,561.2) skewX(-9) scale(1.0,1)"><text x="0" y="0" font-family='"Liberation Sans", sans-serif' font-size="10" font-weight="normal" font-style="italic" fill="#141414" stroke="#141414" stroke-width="0.22" textLength="19.0" lengthAdjust="spacingAndGlyphs" >-500</text></g>
<g transform="translate(198.5,599.9) skewX(-9) scale(1.0,1)"><text x="0" y="0" font-family='"Liberation Sans", sans-serif' font-size="10" font-weight="normal" font-style="italic" fill="#141414" stroke="#141414" stroke-width="0.22" textLength="21.3" lengthAdjust="spacingAndGlyphs" >-250</text></g>
<g transform="translate(204.6,458.3) skewX(-9) scale(1.0,1)"><text x="0" y="0" font-family='"Liberation Sans", sans-serif' font-size="10" font-weight="normal" font-style="italic" fill="#141414" stroke="#141414" stroke-width="0.22" textLength="11.8" lengthAdjust="spacingAndGlyphs" >мс</text></g>
<g transform="translate(218.3,454.5) skewX(-9) scale(1.0,1)"><text x="0" y="0" font-family='"Liberation Sans", sans-serif' font-size="8" font-weight="normal" font-style="italic" fill="#141414" stroke="#141414" stroke-width="0.22" textLength="8.9" lengthAdjust="spacingAndGlyphs" >-2</text></g>
<g transform="translate(112.3,422.1) skewX(-9) scale(0.82,1)"><text x="0" y="0" font-family='"Liberation Sans", sans-serif' font-size="10.5" font-weight="normal" font-style="italic" fill="#141414" stroke="#141414" stroke-width="0.22" textLength="88.9" lengthAdjust="spacing" >Нормированный</text></g>
<g transform="translate(112.3,430.4) skewX(-9) scale(0.82,1)"><text x="0" y="0" font-family='"Liberation Sans", sans-serif' font-size="10.5" font-weight="normal" font-style="italic" fill="#141414" stroke="#141414" stroke-width="0.22" textLength="81.5" lengthAdjust="spacing" >максимальный</text></g>
<g transform="translate(112.3,438.7) skewX(-9) scale(1.0,1)"><text x="0" y="0" font-family='"Liberation Sans", sans-serif' font-size="10.5" font-weight="normal" font-style="italic" fill="#141414" stroke="#141414" stroke-width="0.22" textLength="36.6" lengthAdjust="spacingAndGlyphs" >отклик</text></g>
<g transform="translate(114.8,445.5) skewX(-9) scale(1.0,1)"><text x="0" y="0" font-family='"Liberation Sans", sans-serif' font-size="9" font-weight="normal" font-style="italic" fill="#141414" stroke="#141414" stroke-width="0.22" textLength="5.5" lengthAdjust="spacingAndGlyphs" >a</text></g>
<g transform="translate(120.5,448.0) skewX(-9) scale(1.0,1)"><text x="0" y="0" font-family='"Liberation Sans", sans-serif' font-size="8.5" font-weight="normal" font-style="italic" fill="#141414" stroke="#141414" stroke-width="0.22" textLength="20.8" lengthAdjust="spacingAndGlyphs" >макс</text></g>
<line x1="114.8" y1="450.5" x2="139.0" y2="450.5" stroke="#141414" stroke-width="1.0" />
<g transform="translate(121.6,460.0) skewX(-9) scale(1.0,1)"><text x="0" y="0" font-family='"Liberation Sans", sans-serif' font-size="10" font-weight="normal" font-style="italic" fill="#141414" stroke="#141414" stroke-width="0.22" textLength="6.8" lengthAdjust="spacingAndGlyphs" >A</text></g>
<g transform="translate(187.9,431.1) skewX(-9) scale(0.85,1)"><text x="0" y="0" font-family='"Liberation Sans", sans-serif' font-size="10.5" font-weight="normal" font-style="italic" fill="#141414" stroke="#141414" stroke-width="0.22" textLength="85.5" lengthAdjust="spacing" >Максимальный</text></g>
<g transform="translate(187.9,439.6) skewX(-9) scale(0.85,1)"><text x="0" y="0" font-family='"Liberation Sans", sans-serif' font-size="10.5" font-weight="normal" font-style="italic" fill="#141414" stroke="#141414" stroke-width="0.22" textLength="119.1" lengthAdjust="spacing" >отклик для A=490мс</text></g>
<g transform="translate(290.0,435.5) skewX(-9) scale(1.0,1)"><text x="0" y="0" font-family='"Liberation Sans", sans-serif' font-size="8" font-weight="normal" font-style="italic" fill="#141414" stroke="#141414" stroke-width="0.22" textLength="9.0" lengthAdjust="spacingAndGlyphs" >-2</text></g>
<g transform="translate(240.0,644.7) skewX(-9) scale(1.0,1)"><text x="0" y="0" font-family='"Liberation Sans", sans-serif' font-size="10" font-weight="normal" font-style="italic" fill="#141414" stroke="#141414" stroke-width="0.22" textLength="10.8" lengthAdjust="spacingAndGlyphs" >10</text></g>
<g transform="translate(334.4,644.7) skewX(-9) scale(1.0,1)"><text x="0" y="0" font-family='"Liberation Sans", sans-serif' font-size="10" font-weight="normal" font-style="italic" fill="#141414" stroke="#141414" stroke-width="0.22" textLength="13.3" lengthAdjust="spacingAndGlyphs" >100</text></g>
<g transform="translate(426.0,644.4) skewX(-9) scale(0.85,1)"><text x="0" y="0" font-family='"Liberation Sans", sans-serif' font-size="10" font-weight="normal" font-style="italic" fill="#141414" stroke="#141414" stroke-width="0.22" textLength="34.1" lengthAdjust="spacing" >1000 Гц</text></g>
<g transform="translate(465.4,643.9) skewX(-9) scale(0.85,1)"><text x="0" y="0" font-family='"Liberation Sans", sans-serif' font-size="10" font-weight="normal" font-style="italic" fill="#141414" stroke="#141414" stroke-width="0.22" textLength="118.8" lengthAdjust="spacing" >Частота для D=0,11c</text></g>
<g transform="translate(164.5,667.2) skewX(-9) scale(1.0,1)"><text x="0" y="0" font-family='"Liberation Sans", sans-serif' font-size="10" font-weight="normal" font-style="italic" fill="#141414" stroke="#141414" stroke-width="0.22" textLength="17.2" lengthAdjust="spacingAndGlyphs" >0,02</text></g>
<g transform="translate(204.8,667.2) skewX(-9) scale(1.0,1)"><text x="0" y="0" font-family='"Liberation Sans", sans-serif' font-size="10" font-weight="normal" font-style="italic" fill="#141414" stroke="#141414" stroke-width="0.22" textLength="17.5" lengthAdjust="spacingAndGlyphs" >0,05</text></g>
<g transform="translate(236.3,667.2) skewX(-9) scale(1.0,1)"><text x="0" y="0" font-family='"Liberation Sans", sans-serif' font-size="10" font-weight="normal" font-style="italic" fill="#141414" stroke="#141414" stroke-width="0.22" textLength="11.4" lengthAdjust="spacingAndGlyphs" >0,1</text></g>
<g transform="translate(263.4,667.2) skewX(-9) scale(1.0,1)"><text x="0" y="0" font-family='"Liberation Sans", sans-serif' font-size="10" font-weight="normal" font-style="italic" fill="#141414" stroke="#141414" stroke-width="0.22" textLength="13.6" lengthAdjust="spacingAndGlyphs" >0,2</text></g>
<g transform="translate(301.7,667.2) skewX(-9) scale(1.0,1)"><text x="0" y="0" font-family='"Liberation Sans", sans-serif' font-size="10" font-weight="normal" font-style="italic" fill="#141414" stroke="#141414" stroke-width="0.22" textLength="13.3" lengthAdjust="spacingAndGlyphs" >0,5</text></g>
<g transform="translate(334.4,667.2) skewX(-9) scale(1.0,1)"><text x="0" y="0" font-family='"Liberation Sans", sans-serif' font-size="10" font-weight="normal" font-style="italic" fill="#141414" stroke="#141414" stroke-width="0.22" textLength="4.8" lengthAdjust="spacingAndGlyphs" >1</text></g>
<g transform="translate(363.0,667.2) skewX(-9) scale(1.0,1)"><text x="0" y="0" font-family='"Liberation Sans", sans-serif' font-size="10" font-weight="normal" font-style="italic" fill="#141414" stroke="#141414" stroke-width="0.22" textLength="5.6" lengthAdjust="spacingAndGlyphs" >2</text></g>
<g transform="translate(401.7,667.2) skewX(-9) scale(1.0,1)"><text x="0" y="0" font-family='"Liberation Sans", sans-serif' font-size="10" font-weight="normal" font-style="italic" fill="#141414" stroke="#141414" stroke-width="0.22" textLength="5.8" lengthAdjust="spacingAndGlyphs" >5</text></g>
<g transform="translate(428.4,667.2) skewX(-9) scale(1.0,1)"><text x="0" y="0" font-family='"Liberation Sans", sans-serif' font-size="10" font-weight="normal" font-style="italic" fill="#141414" stroke="#141414" stroke-width="0.22" textLength="9.6" lengthAdjust="spacingAndGlyphs" >10</text></g>
<g transform="translate(448.5,665.9) skewX(-9) scale(0.78,1)"><text x="0" y="0" font-family='"Liberation Sans", sans-serif' font-size="12.5" font-weight="normal" font-style="italic" fill="#141414" stroke="#141414" stroke-width="0.22" textLength="158.3" lengthAdjust="spacing" >Обобщенная частота fD</text></g>
<g transform="translate(394.5,443.6) skewX(-9) scale(0.85,1)"><text x="0" y="0" font-family='"Liberation Sans", sans-serif' font-size="10" font-weight="normal" font-style="italic" fill="#141414" stroke="#141414" stroke-width="0.22" textLength="56.6" lengthAdjust="spacing" >Ускорение</text></g>
<g transform="translate(466.3,439.0) skewX(-9) scale(0.85,1)"><text x="0" y="0" font-family='"Liberation Sans", sans-serif' font-size="10" font-weight="normal" font-style="italic" fill="#141414" stroke="#141414" stroke-width="0.22" textLength="51.4" lengthAdjust="spacing" >Основной</text></g>
<g transform="translate(465.3,450.9) skewX(-9) scale(0.85,1)"><text x="0" y="0" font-family='"Liberation Sans", sans-serif' font-size="10" font-weight="normal" font-style="italic" fill="#141414" stroke="#141414" stroke-width="0.22" textLength="46.0" lengthAdjust="spacing" >импульс</text></g>
<line x1="465.0" y1="443.5" x2="505.0" y2="443.5" stroke="#141414" stroke-width="1.0" />
<path d="M465.0,443.5 L456.3,462.7" fill="none" stroke="#141414" stroke-width="1.0" stroke-linejoin="round" stroke-linecap="butt" />
<path d="M456.3,462.7 L457.5,455.6 L460.8,457.1 Z" fill="#141414"/>
<g transform="translate(519.3,440.4) skewX(-9) scale(0.85,1)"><text x="0" y="0" font-family='"Liberation Sans", sans-serif' font-size="10" font-weight="normal" font-style="italic" fill="#141414" stroke="#141414" stroke-width="0.22" textLength="55.3" lengthAdjust="spacing" >A=490м·с</text></g>
<g transform="translate(567.0,435.0) skewX(-9) scale(1.0,1)"><text x="0" y="0" font-family='"Liberation Sans", sans-serif' font-size="8" font-weight="normal" font-style="italic" fill="#141414" stroke="#141414" stroke-width="0.22" textLength="8.7" lengthAdjust="spacingAndGlyphs" >-2</text></g>
<g transform="translate(519.3,450.8) skewX(-9) scale(0.85,1)"><text x="0" y="0" font-family='"Liberation Sans", sans-serif' font-size="10" font-weight="normal" font-style="italic" fill="#141414" stroke="#141414" stroke-width="0.22" textLength="44.2" lengthAdjust="spacing" >D=11мс</text></g>
<g transform="translate(475.0,477.5) skewX(-9) scale(0.85,1)"><text x="0" y="0" font-family='"Liberation Sans", sans-serif' font-size="10" font-weight="normal" font-style="italic" fill="#141414" stroke="#141414" stroke-width="0.22" textLength="83.5" lengthAdjust="spacing" >Коэффициент</text></g>
<g transform="translate(475.0,485.2) skewX(-9) scale(0.85,1)"><text x="0" y="0" font-family='"Liberation Sans", sans-serif' font-size="10" font-weight="normal" font-style="italic" fill="#141414" stroke="#141414" stroke-width="0.22" textLength="109.1" lengthAdjust="spacing" >демпфирования 0,1</text></g>
<g transform="translate(485.4,493.7) skewX(-9) scale(0.85,1)"><text x="0" y="0" font-family='"Liberation Sans", sans-serif' font-size="10" font-weight="normal" font-style="italic" fill="#141414" stroke="#141414" stroke-width="0.22" textLength="82.6" lengthAdjust="spacing" >Затухающая</text></g>
<g transform="translate(485.0,501.0) skewX(-9) scale(0.85,1)"><text x="0" y="0" font-family='"Liberation Sans", sans-serif' font-size="10" font-weight="normal" font-style="italic" fill="#141414" stroke="#141414" stroke-width="0.22" textLength="61.8" lengthAdjust="spacing" >пульсация</text></g>
<g transform="translate(540.0,509.0) skewX(-9) scale(0.85,1)"><text x="0" y="0" font-family='"Liberation Sans", sans-serif' font-size="10" font-weight="normal" font-style="italic" fill="#141414" stroke="#141414" stroke-width="0.22" textLength="32.6" lengthAdjust="spacing" >Время</text></g>
<g transform="translate(442.7,527.7) skewX(-9) scale(0.85,1)"><text x="0" y="0" font-family='"Liberation Sans", sans-serif' font-size="10" font-weight="normal" font-style="italic" fill="#141414" stroke="#141414" stroke-width="0.22" textLength="163.8" lengthAdjust="spacing" >Пульсация 460 Гц, амплитуда =</text></g>
<g transform="translate(553.0,537.4) skewX(-9) scale(0.85,1)"><text x="0" y="0" font-family='"Liberation Sans", sans-serif' font-size="10" font-weight="normal" font-style="italic" fill="#141414" stroke="#141414" stroke-width="0.22" textLength="30.5" lengthAdjust="spacing" >= 10%</text></g>
<g transform="translate(443.9,555.7) skewX(-9) scale(1.0,1)"><text x="0" y="0" font-family='"Liberation Sans", sans-serif' font-size="10" font-weight="normal" font-style="italic" fill="#141414" stroke="#141414" stroke-width="0.22" textLength="9.7" lengthAdjust="spacingAndGlyphs" >+I</text></g>
<g transform="translate(433.0,616.3) skewX(-9) scale(1.0,1)"><text x="0" y="0" font-family='"Liberation Sans", sans-serif' font-size="10" font-weight="normal" font-style="italic" fill="#141414" stroke="#141414" stroke-width="0.22" textLength="12.0" lengthAdjust="spacingAndGlyphs" >+R</text></g>
<line x1="428.3" y1="510.5" x2="428.3" y2="458.0" stroke="#141414" stroke-width="1.5" />
<path d="M428.3,449.5 L430.3,458.5 L426.3,458.5 Z" fill="#141414"/>
<line x1="430.4" y1="500.0" x2="430.4" y2="452.0" stroke="#141414" stroke-width="1.1" />
<path d="M430.4,507.5 L428.6,499.5 L432.2,499.5 Z" fill="#141414"/>
<line x1="536.8" y1="505.5" x2="536.8" y2="515.0" stroke="#141414" stroke-width="1.3" />
<path d="M536.0,510.6 L528.0,512.6 L528.0,508.6 Z" fill="#141414"/>
<path d="M430.5,510.5 C430.7,509.9 431.3,508.1 431.7,506.9 C432.1,505.6 432.5,504.4 432.9,503.2 C433.2,502.0 433.6,500.8 434.0,499.6 C434.4,498.5 434.8,497.3 435.2,496.1 C435.6,495.0 436.0,493.8 436.4,492.7 C436.8,491.6 437.2,490.5 437.6,489.4 C437.9,488.3 438.3,487.2 438.7,486.2 C439.1,485.2 439.5,484.2 439.9,483.2 C440.3,482.2 440.7,481.2 441.1,480.3 C441.5,479.4 441.9,478.5 442.2,477.6 C442.6,476.8 443.0,475.9 443.4,475.1 C443.8,474.4 444.2,473.6 444.6,472.9 C445.0,472.2 445.4,471.5 445.8,470.9 C446.2,470.2 446.6,469.6 446.9,469.1 C447.3,468.5 447.7,468.0 448.1,467.5 C448.5,467.1 448.9,466.7 449.3,466.3 C449.7,465.9 450.1,465.6 450.5,465.3 C450.9,465.0 451.3,464.8 451.6,464.6 C452.0,464.4 452.4,464.2 452.8,464.1 C453.2,464.0 453.6,464.0 454.0,464.0 C454.4,464.0 454.8,464.0 455.2,464.1 C455.6,464.2 456.0,464.4 456.4,464.6 C456.7,464.8 457.1,465.0 457.5,465.3 C457.9,465.6 458.3,465.9 458.7,466.3 C459.1,466.7 459.5,467.1 459.9,467.5 C460.3,468.0 460.7,468.5 461.1,469.1 C461.4,469.6 461.8,470.2 462.2,470.9 C462.6,471.5 463.0,472.2 463.4,472.9 C463.8,473.6 464.2,474.4 464.6,475.1 C465.0,475.9 465.4,476.8 465.8,477.6 C466.1,478.5 466.5,479.4 466.9,480.3 C467.3,481.2 467.7,482.2 468.1,483.2 C468.5,484.2 468.9,485.2 469.3,486.2 C469.7,487.2 470.1,488.3 470.4,489.4 C470.8,490.5 471.2,491.6 471.6,492.7 C472.0,493.8 472.4,495.0 472.8,496.1 C473.2,497.3 473.6,498.5 474.0,499.6 C474.4,500.8 474.8,502.0 475.1,503.2 C475.5,504.4 475.9,505.6 476.3,506.9 C476.7,508.1 477.3,509.9 477.5,510.5" fill="none" stroke="#141414" stroke-width="1.2" stroke-linejoin="round" stroke-linecap="butt" />
<path d="M428.6,509.5 C429.5,506.8 432.4,497.7 434.1,493.2 C435.8,488.7 437.6,485.2 438.6,482.3 C439.6,479.4 439.2,477.4 440.0,475.9 C440.8,474.4 442.1,473.7 443.2,473.2 C444.3,472.7 445.8,473.6 446.8,472.7 C447.8,471.8 448.3,469.6 449.1,467.7 C449.9,465.8 450.6,462.4 451.4,461.4 C452.1,460.4 452.8,460.6 453.6,461.8 C454.4,463.0 455.5,467.8 456.4,468.6 C457.3,469.4 458.3,467.2 459.1,466.8 C459.9,466.4 460.7,465.1 461.4,465.9 C462.1,466.7 462.4,469.3 463.2,471.4 C463.9,473.5 464.8,476.5 465.9,478.6 C466.9,480.7 468.3,482.7 469.5,484.1 C470.7,485.5 472.4,485.3 473.2,486.8 C474.0,488.3 474.2,490.6 474.5,493.2 C474.8,495.8 474.8,499.6 475.0,502.3 C475.2,505.0 475.4,508.3 475.5,509.5" fill="none" stroke="#141414" stroke-width="1.7" stroke-linejoin="round" stroke-linecap="butt" />
<path d="M429.0,507.8 C429.1,507.7 429.3,507.5 429.5,507.4 C429.7,507.3 429.8,507.3 430.0,507.3 C430.2,507.3 430.3,507.4 430.5,507.5 C430.7,507.6 430.8,507.8 431.0,508.0 C431.2,508.2 431.3,508.4 431.5,508.7 C431.7,508.9 431.8,509.2 432.0,509.5 C432.2,509.8 432.3,510.1 432.5,510.4 C432.7,510.7 432.8,511.1 433.0,511.4 C433.2,511.6 433.3,511.9 433.5,512.2 C433.7,512.4 433.8,512.6 434.0,512.8 C434.2,513.0 434.3,513.1 434.5,513.2 C434.7,513.3 434.8,513.3 435.0,513.3 C435.2,513.3 435.3,513.2 435.5,513.1 C435.7,513.0 435.8,512.9 436.0,512.7 C436.2,512.5 436.3,512.3 436.5,512.0 C436.7,511.8 436.8,511.5 437.0,511.2 C437.2,510.9 437.3,510.6 437.5,510.3 C437.7,509.9 437.8,509.6 438.0,509.3 C438.2,509.0 438.3,508.8 438.5,508.5 C438.7,508.3 438.8,508.0 439.0,507.9 C439.2,507.7 439.3,507.5 439.5,507.4 C439.7,507.4 439.8,507.3 440.0,507.3 C440.2,507.3 440.3,507.4 440.5,507.4 C440.7,507.5 440.8,507.7 441.0,507.9 C441.2,508.0 441.3,508.3 441.5,508.5 C441.7,508.8 441.8,509.0 442.0,509.3 C442.2,509.6 442.3,509.9 442.5,510.3 C442.7,510.6 442.8,510.9 443.0,511.2 C443.2,511.5 443.3,511.8 443.5,512.0 C443.7,512.3 443.8,512.5 444.0,512.7 C444.2,512.9 444.3,513.0 444.5,513.1 C444.7,513.2 444.8,513.3 445.0,513.3 C445.2,513.3 445.3,513.3 445.5,513.2 C445.7,513.1 445.8,513.0 446.0,512.8 C446.2,512.6 446.3,512.4 446.5,512.2 C446.7,511.9 446.8,511.6 447.0,511.4 C447.2,511.1 447.3,510.7 447.5,510.4 C447.7,510.1 447.8,509.8 448.0,509.5 C448.2,509.2 448.3,508.9 448.5,508.7 C448.7,508.4 448.8,508.2 449.0,508.0 C449.2,507.8 449.3,507.6 449.5,507.5 C449.7,507.4 449.8,507.3 450.0,507.3 C450.2,507.3 450.3,507.3 450.5,507.4 C450.7,507.5 450.8,507.6 451.0,507.8 C451.2,507.9 451.3,508.1 451.5,508.4 C451.7,508.6 451.8,508.9 452.0,509.2 C452.2,509.4 452.3,509.8 452.5,510.1 C452.7,510.4 452.8,510.7 453.0,511.0 C453.2,511.3 453.3,511.6 453.5,511.9 C453.7,512.1 453.8,512.4 454.0,512.6 C454.2,512.8 454.3,512.9 454.5,513.1 C454.7,513.2 454.8,513.3 455.0,513.3 C455.2,513.3 455.3,513.3 455.5,513.2 C455.7,513.2 455.8,513.0 456.0,512.9 C456.2,512.7 456.3,512.5 456.5,512.3 C456.7,512.1 456.8,511.8 457.0,511.5 C457.2,511.2 457.3,510.9 457.5,510.6 C457.7,510.3 457.8,510.0 458.0,509.7 C458.2,509.4 458.3,509.1 458.5,508.8 C458.7,508.6 458.8,508.3 459.0,508.1 C459.2,507.9 459.3,507.7 459.5,507.6 C459.7,507.5 459.8,507.4 460.0,507.3 C460.2,507.3 460.3,507.3 460.5,507.4 C460.7,507.4 460.8,507.5 461.0,507.7 C461.2,507.8 461.3,508.0 461.5,508.2 C461.7,508.5 461.8,508.7 462.0,509.0 C462.2,509.3 462.3,509.6 462.5,509.9 C462.7,510.2 462.8,510.5 463.0,510.8 C463.2,511.1 463.3,511.4 463.5,511.7 C463.7,512.0 463.8,512.2 464.0,512.4 C464.2,512.7 464.3,512.8 464.5,513.0 C464.7,513.1 464.8,513.2 465.0,513.3 C465.2,513.3 465.3,513.3 465.5,513.3 C465.7,513.2 465.8,513.1 466.0,513.0 C466.2,512.8 466.3,512.7 466.5,512.4 C466.7,512.2 466.8,512.0 467.0,511.7 C467.2,511.4 467.3,511.1 467.5,510.8 C467.7,510.5 467.8,510.2 468.0,509.9 C468.2,509.6 468.3,509.3 468.5,509.0 C468.7,508.7 468.8,508.5 469.0,508.2 C469.2,508.0 469.3,507.8 469.5,507.7 C469.7,507.5 469.8,507.4 470.0,507.4 C470.2,507.3 470.3,507.3 470.5,507.3 C470.7,507.4 470.8,507.5 471.0,507.6 C471.2,507.7 471.3,507.9 471.5,508.1 C471.7,508.3 471.8,508.6 472.0,508.8 C472.2,509.1 472.3,509.4 472.5,509.7 C472.7,510.0 472.8,510.3 473.0,510.6 C473.2,510.9 473.3,511.2 473.5,511.5 C473.7,511.8 473.8,512.1 474.0,512.3 C474.2,512.5 474.3,512.7 474.5,512.9 C474.7,513.0 474.8,513.2 475.0,513.2 C475.2,513.3 475.3,513.3 475.5,513.3 C475.7,513.3 475.8,513.2 476.0,513.1 C476.2,512.9 476.3,512.8 476.5,512.6 C476.7,512.4 476.8,512.1 477.0,511.9 C477.2,511.6 477.3,511.3 477.5,511.0 C477.7,510.7 477.8,510.4 478.0,510.1 C478.2,509.8 478.3,509.4 478.5,509.2 C478.7,508.9 478.8,508.6 479.0,508.4 C479.2,508.1 479.3,507.9 479.5,507.8 C479.7,507.6 479.8,507.5 480.0,507.4 C480.2,507.3 480.3,507.3 480.5,507.3 C480.7,507.4 480.8,507.5 481.0,507.6 C481.2,507.7 481.3,507.9 481.5,508.1 C481.7,508.3 481.8,508.5 482.0,508.7 C482.2,509.0 482.3,509.3 482.5,509.6 C482.7,509.8 482.8,510.1 483.0,510.4 C483.2,510.7 483.3,511.0 483.5,511.3 C483.7,511.5 483.8,511.8 484.0,512.0 C484.2,512.2 484.3,512.4 484.5,512.5 C484.7,512.7 484.8,512.8 485.0,512.8 C485.2,512.9 485.3,512.9 485.5,512.9 C485.7,512.9 485.8,512.8 486.0,512.7 C486.2,512.6 486.3,512.5 486.5,512.3 C486.7,512.2 486.8,512.0 487.0,511.7 C487.2,511.5 487.3,511.3 487.5,511.0 C487.7,510.8 487.8,510.5 488.0,510.3 C488.2,510.0 488.3,509.8 488.5,509.5 C488.7,509.3 488.8,509.1 489.0,508.9 C489.2,508.7 489.3,508.5 489.5,508.4 C489.7,508.2 489.8,508.1 490.0,508.1 C490.2,508.0 490.3,508.0 490.5,508.0 C490.7,508.0 490.8,508.1 491.0,508.1 C491.2,508.2 491.3,508.3 491.5,508.5 C491.7,508.6 491.8,508.8 492.0,509.0 C492.2,509.2 492.3,509.4 492.5,509.6 C492.7,509.8 492.8,510.0 493.0,510.3 C493.2,510.5 493.3,510.7 493.5,510.9 C493.7,511.1 493.8,511.3 494.0,511.5 C494.2,511.7 494.3,511.8 494.5,512.0 C494.7,512.1 494.8,512.2 495.0,512.2 C495.2,512.3 495.3,512.3 495.5,512.3 C495.7,512.3 495.8,512.3 496.0,512.2 C496.2,512.2 496.3,512.1 496.5,511.9 C496.7,511.8 496.8,511.7 497.0,511.5 C497.2,511.4 497.3,511.2 497.5,511.0 C497.7,510.8 497.8,510.6 498.0,510.4 C498.2,510.2 498.3,510.0 498.5,509.8 C498.7,509.6 498.8,509.4 499.0,509.3 C499.2,509.1 499.3,509.0 499.5,508.9 C499.7,508.8 499.8,508.7 500.0,508.6 C500.2,508.5 500.3,508.5 500.5,508.5 C500.7,508.5 500.8,508.5 501.0,508.6 C501.2,508.6 501.3,508.7 501.5,508.8 C501.7,508.9 501.8,509.0 502.0,509.2 C502.2,509.3 502.3,509.5 502.5,509.7 C502.7,509.8 502.8,510.0 503.0,510.2 C503.2,510.3 503.3,510.5 503.5,510.7 C503.7,510.8 503.8,511.0 504.0,511.2 C504.2,511.3 504.3,511.4 504.5,511.5 C504.7,511.6 504.8,511.7 505.0,511.8 C505.2,511.8 505.3,511.9 505.5,511.9 C505.7,511.9 505.8,511.9 506.0,511.8 C506.2,511.8 506.3,511.7 506.5,511.6 C506.7,511.6 506.8,511.4 507.0,511.3 C507.2,511.2 507.3,511.1 507.5,510.9 C507.7,510.8 507.8,510.6 508.0,510.5 C508.2,510.3 508.3,510.2 508.5,510.0 C508.7,509.9 508.8,509.7 509.0,509.6 C509.2,509.5 509.3,509.3 509.5,509.2 C509.7,509.2 509.8,509.1 510.0,509.0 C510.2,509.0 510.3,508.9 510.5,508.9 C510.7,508.9 510.8,508.9 511.0,508.9 C511.2,509.0 511.3,509.0 511.5,509.1 C511.7,509.2 511.8,509.3 512.0,509.4 C512.2,509.5 512.3,509.6 512.5,509.7 C512.7,509.8 512.8,510.0 513.0,510.1 C513.2,510.3 513.3,510.4 513.5,510.5 C513.7,510.7 513.8,510.8 514.0,510.9 C514.2,511.0 514.3,511.1 514.5,511.2 C514.7,511.3 514.8,511.4 515.0,511.4 C515.2,511.5 515.3,511.5 515.5,511.5 C515.7,511.5 515.8,511.5 516.0,511.5 C516.2,511.5 516.3,511.4 516.5,511.4 C516.7,511.3 516.8,511.2 517.0,511.1 C517.2,511.1 517.3,511.0 517.5,510.8 C517.7,510.7 517.8,510.6 518.0,510.5 C518.2,510.4 518.3,510.3 518.5,510.1 C518.7,510.0 518.8,509.9 519.0,509.8 C519.2,509.7 519.3,509.6 519.5,509.5 C519.7,509.4 519.8,509.4 520.0,509.3 C520.2,509.3 520.3,509.2 520.5,509.2 C520.7,509.2 520.8,509.2 521.0,509.2 C521.2,509.2 521.3,509.3 521.5,509.3 C521.7,509.4 521.8,509.5 522.0,509.5 C522.2,509.6 522.3,509.7 522.5,509.8 C522.7,509.9 522.8,510.0 523.0,510.1 C523.2,510.2 523.3,510.3 523.5,510.4 C523.7,510.5 523.8,510.6 524.0,510.7 C524.2,510.8 524.3,510.9 524.5,511.0 C524.7,511.0 524.8,511.1 525.0,511.1 C525.2,511.2 525.3,511.2 525.5,511.2 C525.7,511.3 525.8,511.3 526.0,511.2 C526.2,511.2 526.3,511.2 526.5,511.2 C526.7,511.1 526.8,511.1 527.0,511.0 C527.2,510.9 527.3,510.9 527.5,510.8 C527.7,510.7 527.8,510.6 528.0,510.5 C528.2,510.4 528.3,510.3 528.5,510.2 C528.7,510.1 528.8,510.0 529.0,510.0 C529.2,509.9 529.3,509.8 529.5,509.7 C529.7,509.7 529.8,509.6 530.0,509.6 C530.2,509.5 530.3,509.5 530.5,509.5 C530.7,509.5 530.8,509.5 531.0,509.5 C531.2,509.5 531.3,509.5 531.5,509.5 C531.7,509.6 531.8,509.6 532.0,509.7 C532.2,509.7 532.3,509.8 532.5,509.9 C532.7,509.9 532.8,510.0 533.0,510.1 C533.2,510.2 533.3,510.3 533.5,510.3 C533.7,510.4 533.8,510.5 534.0,510.6 C534.2,510.6 534.3,510.7 534.5,510.8 C534.7,510.8 534.9,510.9 535.0,510.9" fill="none" stroke="#141414" stroke-width="1.7" stroke-linejoin="round" stroke-linecap="butt" />
<path d="M442.0,524.0 L430.5,524.0 L432.0,514.0" fill="none" stroke="#141414" stroke-width="1.0" stroke-linejoin="round" stroke-linecap="butt" />
<path d="M433.0,512.5 L432.9,518.7 L429.6,517.8 Z" fill="#141414"/>
<path d="M442.7,552.9 L432.4,552.9 L435.4,543.0" fill="none" stroke="#141414" stroke-width="1.0" stroke-linejoin="round" stroke-linecap="butt" />
<path d="M435.6,542.0 L436.0,549.2 L432.5,548.5 Z" fill="#141414"/>
<path d="M445.0,614.0 L448.7,626.6" fill="none" stroke="#141414" stroke-width="1.0" stroke-linejoin="round" stroke-linecap="butt" />
<path d="M448.7,626.6 L445.3,621.3 L448.6,620.4 Z" fill="#141414"/>
<path d="M507.8,502.5 L503.5,508.5" fill="none" stroke="#141414" stroke-width="1.1" stroke-linejoin="round" stroke-linecap="butt" />
<path d="M503.3,508.6 L504.3,503.4 L507.4,505.2 Z" fill="#141414"/>
<path d="M195.0,634.5 C196.7,634.4 200.8,634.5 205.0,633.8 C209.2,633.1 215.4,631.9 219.9,630.2 C224.4,628.5 227.8,626.1 232.0,623.5 C236.2,620.9 241.5,617.8 245.3,614.5 C249.1,611.2 251.6,607.8 255.0,604.0 C258.4,600.2 262.6,595.8 265.9,591.5 C269.1,587.2 271.7,582.9 274.5,578.0 C277.3,573.1 279.9,568.1 282.9,562.4 C285.9,556.6 289.5,549.2 292.7,543.5 C295.9,537.8 298.3,533.9 301.8,528.4 C305.3,522.9 311.0,514.5 313.9,510.3 C316.8,506.2 317.5,505.4 319.0,503.5 C320.5,501.6 321.8,500.1 323.0,499.0 C324.2,497.9 324.8,497.4 326.0,497.0 C327.2,496.6 328.7,496.6 330.0,496.6 C331.3,496.6 332.7,496.6 334.0,497.0 C335.3,497.4 336.8,498.5 338.0,499.3 C339.2,500.1 338.7,498.7 341.5,502.0 C344.3,505.3 349.9,512.4 354.7,519.3 C359.4,526.2 366.6,538.2 370.0,543.5 C373.4,548.8 374.0,549.7 375.4,551.3 C376.8,552.9 376.9,553.6 378.4,553.0 C379.9,552.4 382.9,548.6 384.5,547.6 C386.1,546.6 386.8,546.9 388.0,547.0 C389.2,547.1 390.7,548.5 392.0,548.3 C393.3,548.1 394.9,547.4 396.0,546.0 C397.1,544.6 397.7,545.8 398.5,540.0 C399.3,534.2 400.0,518.4 400.9,511.0 C401.8,503.6 402.9,500.0 403.8,495.8 C404.7,491.6 405.5,488.5 406.3,486.0 C407.1,483.5 408.1,479.3 408.9,480.8 C409.7,482.3 410.2,490.0 411.2,495.0 C412.2,500.0 413.8,505.7 415.0,511.0 C416.2,516.3 417.3,523.1 418.2,527.0 C419.1,530.9 419.7,533.0 420.5,534.5 C421.3,536.0 421.9,536.1 423.0,536.3 C424.1,536.5 425.6,534.9 427.0,535.7 C428.4,536.5 429.8,540.4 431.2,541.2 C432.6,542.0 433.9,540.2 435.4,540.6 C436.9,541.0 438.9,543.2 440.3,543.6 C441.7,544.0 442.7,542.7 444.0,543.0 C445.3,543.3 446.7,545.2 448.0,545.5 C449.3,545.8 450.7,544.2 452.0,544.5 C453.3,544.8 454.7,546.8 456.0,547.0 C457.3,547.2 458.7,545.8 460.0,546.0 C461.3,546.2 462.7,547.8 464.0,548.0 C465.3,548.2 466.7,546.9 468.0,547.0 C469.3,547.1 470.7,548.4 472.0,548.5 C473.3,548.6 474.7,547.5 476.0,547.5 C477.3,547.5 478.5,548.5 480.0,548.5 C481.5,548.5 484.2,547.7 485.0,547.5" fill="none" stroke="#141414" stroke-width="2.5" stroke-linejoin="round" stroke-linecap="butt" />
<path d="M150.3,631.4 C153.6,630.9 162.4,629.8 170.0,628.5 C177.6,627.2 189.0,625.1 195.7,623.4 C202.4,621.7 205.2,620.4 210.0,618.5 C214.8,616.6 218.8,614.7 224.7,612.0 C230.6,609.3 239.4,606.1 245.3,602.4 C251.2,598.7 255.2,594.6 260.0,590.0 C264.9,585.4 270.6,579.1 274.4,574.5 C278.2,569.9 279.8,567.6 282.9,562.4 C285.9,557.2 289.5,549.2 292.7,543.5 C295.9,537.8 298.3,533.9 301.8,528.4 C305.3,522.9 310.6,514.6 313.9,510.3 C317.2,506.0 319.4,504.0 321.4,502.7 C323.4,501.4 324.0,500.4 326.0,502.4 C328.0,504.4 331.2,509.7 333.5,514.8 C335.8,519.9 337.6,525.5 339.6,533.0 C341.6,540.5 343.9,550.5 345.6,560.0 C347.3,569.5 348.4,577.7 350.0,590.0 C351.6,602.3 353.6,630.5 355.0,633.8 C356.4,637.1 357.3,616.6 358.5,610.0 C359.7,603.4 361.0,597.8 362.0,594.0 C363.0,590.2 363.7,588.6 364.5,587.0 C365.3,585.4 366.2,584.6 367.0,584.6 C367.8,584.6 368.6,584.1 369.5,587.0 C370.4,589.9 371.5,594.2 372.5,602.0 C373.5,609.8 374.4,631.0 375.4,633.8 C376.4,636.6 377.5,622.8 378.5,619.0 C379.5,615.2 380.5,612.6 381.5,611.0 C382.5,609.4 383.5,609.1 384.5,609.4 C385.5,609.7 386.5,608.9 387.5,613.0 C388.5,617.1 389.5,632.6 390.5,633.8 C391.5,635.0 392.5,623.0 393.5,620.0 C394.5,617.0 395.7,616.6 396.6,615.6 C397.5,614.6 398.0,623.3 398.8,614.0 C399.6,604.7 400.7,573.2 401.5,560.0 C402.3,546.8 403.0,543.2 403.5,535.0 C404.0,526.8 404.1,518.5 404.7,511.0 C405.3,503.5 406.4,494.8 407.0,490.0 C407.6,485.2 407.9,481.2 408.5,482.0 C409.1,482.8 410.1,490.2 410.5,495.0 C410.9,499.8 411.0,503.5 411.2,511.0 C411.4,518.5 411.3,528.5 411.5,540.0 C411.7,551.5 412.0,567.9 412.5,580.0 C413.0,592.1 414.3,607.2 414.7,612.6" fill="none" stroke="#141414" stroke-width="1.8" stroke-linejoin="round" stroke-linecap="butt" stroke-dasharray="7,2.8" />
<path d="M414.7,612.6 C415.1,613.8 416.3,618.0 417.3,620.0 C418.3,622.0 419.8,623.7 420.8,624.7 C421.8,625.7 422.7,626.0 423.3,626.0 C423.9,626.0 424.0,624.6 424.5,624.8 C425.0,625.0 425.6,627.3 426.1,627.4 C426.6,627.4 427.2,625.2 427.7,625.2 C428.2,625.3 428.8,627.7 429.3,627.7 C429.8,627.8 430.4,625.7 430.9,625.7 C431.4,625.7 432.0,627.8 432.5,627.8 C433.0,627.8 433.6,625.6 434.1,625.7 C434.6,625.9 435.2,628.5 435.7,628.6 C436.2,628.7 436.8,626.2 437.3,626.2 C437.8,626.2 438.4,628.4 438.9,628.6 C439.4,628.7 440.0,626.9 440.5,627.0 C441.0,627.1 441.6,629.0 442.1,629.1 C442.6,629.1 443.2,627.2 443.7,627.3 C444.2,627.3 444.8,629.4 445.3,629.4 C445.8,629.5 446.4,627.5 446.9,627.5 C447.4,627.5 448.0,629.5 448.5,629.6 C449.0,629.6 449.6,627.7 450.1,627.9 C450.6,628.0 451.2,630.3 451.7,630.4 C452.2,630.4 452.8,628.1 453.3,628.1 C453.8,628.2 454.4,630.6 454.9,630.6 C455.4,630.7 456.0,628.6 456.5,628.6 C457.0,628.6 457.6,630.5 458.1,630.6 C458.6,630.7 459.2,628.9 459.7,629.0 C460.2,629.1 460.8,631.2 461.3,631.3 C461.8,631.3 462.4,629.1 462.9,629.1 C463.4,629.1 464.0,631.2 464.5,631.3 C465.0,631.4 465.6,629.6 466.1,629.8 C466.6,629.9 467.2,631.8 467.7,631.9 C468.2,631.9 468.8,629.9 469.3,630.0 C469.8,630.1 470.4,632.2 470.9,632.4 C471.4,632.5 472.0,631.1 472.5,631.1 C473.0,631.1 473.6,632.5 474.1,632.5 C474.6,632.5 475.2,631.0 475.7,631.0 C476.2,631.0 476.8,632.5 477.3,632.5 C477.8,632.5 478.4,631.1 478.9,631.1 C479.4,631.2 480.0,632.6 480.5,632.7 C481.0,632.7 481.6,631.6 482.1,631.5 C482.6,631.4 483.4,632.1 483.7,632.3" fill="none" stroke="#141414" stroke-width="1.4" stroke-linejoin="round" stroke-linecap="butt" />
<text x="278.2" y="693.3" font-family='"Liberation Serif", serif' font-size="8" fill="#141414" stroke="#141414" stroke-width="0.2" textLength="136.8" lengthAdjust="spacing"><tspan font-style="italic" font-size="8.5">I</tspan> – начальный; <tspan font-style="italic" font-size="8.5">R</tspan> – остаточный</text>
<text x="330.2" y="715.8" font-family='"Liberation Serif", serif' font-size="10.5" font-weight="normal" font-style="normal" fill="#141414" stroke="#141414" stroke-width="0.1" textLength="32.7" lengthAdjust="spacing" >Рис. 11</text>
</svg></body></html>
